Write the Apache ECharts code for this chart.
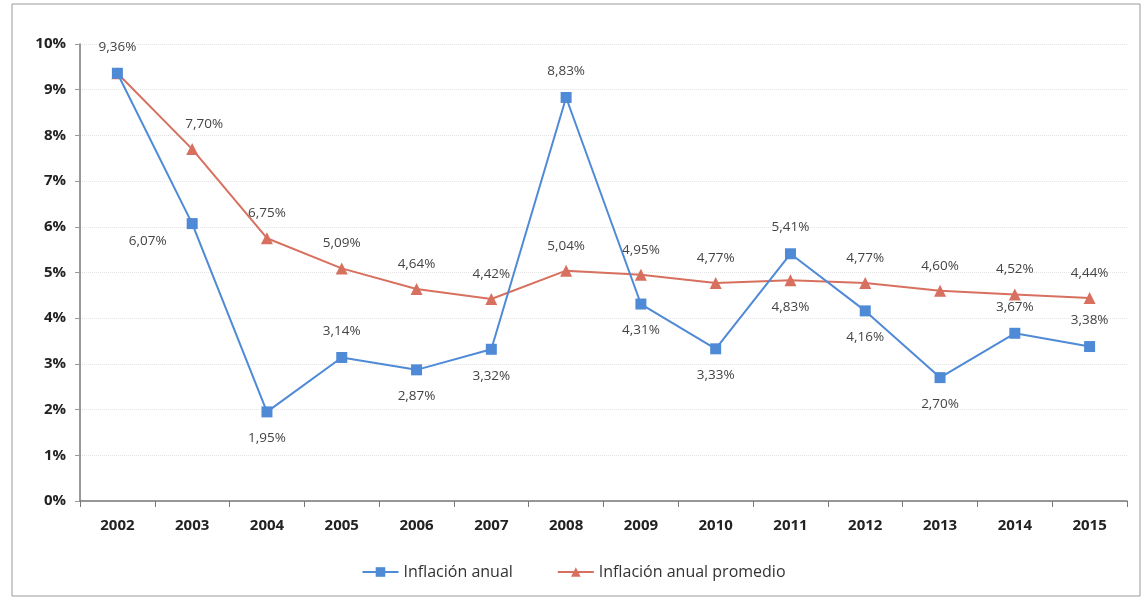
<!DOCTYPE html>
<html>
<head>
<meta charset="utf-8">
<script src="https://cdn.jsdelivr.net/npm/echarts@6/dist/echarts.min.js"></script>
<style>
html, body { margin: 0; padding: 0; background: #fff; }
#chart { width: 1147px; height: 601px; }
</style>
</head>
<body>
<div id="chart"></div>
<script>
// datos
var years = ['2002', '2003', '2004', '2005', '2006', '2007', '2008', '2009', '2010', '2011', '2012', '2013', '2014', '2015'];
var inflacionAnual = [9.36, 6.07, 1.95, 3.14, 2.87, 3.32, 8.83, 4.31, 3.33, 5.41, 4.16, 2.70, 3.67, 3.38];
var inflacionPromedio = [9.36, 7.70, 5.75, 5.09, 4.64, 4.42, 5.04, 4.95, 4.77, 4.83, 4.77, 4.60, 4.52, 4.44];
// texto de etiqueta tal como aparece (2004 dice 6,75%)
var promedioLabels = ['', '7,70%', '6,75%', '5,09%', '4,64%', '4,42%', '5,04%', '4,95%', '4,77%', '4,83%', '4,77%', '4,60%', '4,52%', '4,44%'];
// posicion de las etiquetas de cada serie
var anualPos = ['top', 'left', 'bottom', 'top', 'bottom', 'bottom', 'top', 'bottom', 'bottom', 'top', 'bottom', 'bottom', 'top', 'top'];
var promedioPos = ['top', 'top', 'top', 'top', 'top', 'top', 'top', 'top', 'top', 'bottom', 'top', 'top', 'top', 'top'];

var fontFam = '"Open Sans", "Liberation Sans", sans-serif';

function pct(v) {
  return v.toFixed(2).replace('.', ',') + '%';
}

var anualData = inflacionAnual.map(function (v, i) {
  var item = { value: v, label: { position: anualPos[i] } };
  if (i === 1) item.label.offset = [-6, 18];
  return item;
});
var promData = inflacionPromedio.map(function (v, i) {
  var item = { value: v, label: { position: promedioPos[i], formatter: promedioLabels[i] } };
  if (i === 0) item.label.show = false;
  item.label.distance = promedioPos[i] === 'bottom' ? 14 : 12;
  if (i === 1) item.label.offset = [12, 0];
  return item;
});

var chart = echarts.init(document.getElementById('chart'));
chart.setOption({
  backgroundColor: '#fff',
  animation: false,
  textStyle: { fontFamily: fontFam },
  grid: { left: 80, right: 20, top: 44, bottom: 100 },
  legend: {
    bottom: 16,
    left: 'center',
    itemWidth: 36,
    itemHeight: 12,
    itemGap: 44,
    textStyle: { fontSize: 16, color: '#333', fontFamily: fontFam },
    data: ['Inflación anual', 'Inflación anual promedio']
  },
  xAxis: {
    type: 'category',
    data: years,
    boundaryGap: true,
    axisLine: { lineStyle: { color: '#777', width: 1.5 } },
    axisTick: { show: true, length: 6, lineStyle: { color: '#777' } },
    axisLabel: { color: '#222', fontSize: 15, fontWeight: 'bold', margin: 17 }
  },
  yAxis: {
    type: 'value',
    min: 0,
    max: 10,
    interval: 1,
    axisLine: { show: true, lineStyle: { color: '#777', width: 1.5 } },
    axisTick: { show: true, length: 5, lineStyle: { color: '#999' } },
    axisLabel: { color: '#222', fontSize: 15, fontWeight: 'bold', margin: 14, formatter: '{value}%' },
    splitLine: { show: true, lineStyle: { color: '#e4e4e4', type: 'dotted', width: 1 } }
  },
  series: [
    {
      name: 'Inflación anual',
      type: 'line',
      data: anualData,
      symbol: 'rect',
      symbolSize: 11,
      z: 3,
      itemStyle: { color: '#4f8ad6' },
      lineStyle: { color: '#4f8ad6', width: 2 },
      label: {
        show: true,
        color: '#444',
        fontSize: 13.5,
        distance: 14,
        formatter: function (p) { return pct(p.value); }
      }
    },
    {
      name: 'Inflación anual promedio',
      type: 'line',
      data: promData,
      symbol: 'triangle',
      symbolSize: 12,
      z: 2,
      itemStyle: { color: '#d8705f' },
      lineStyle: { color: '#d8705f', width: 2 },
      label: {
        show: true,
        color: '#444',
        fontSize: 13.5
      }
    }
  ],
  graphic: [
    {
      type: 'rect',
      shape: { x: 12, y: 4, width: 1128, height: 592 },
      style: { fill: 'none', stroke: '#999', lineWidth: 1 },
      silent: true
    }
  ]
});
</script>
</body>
</html>
